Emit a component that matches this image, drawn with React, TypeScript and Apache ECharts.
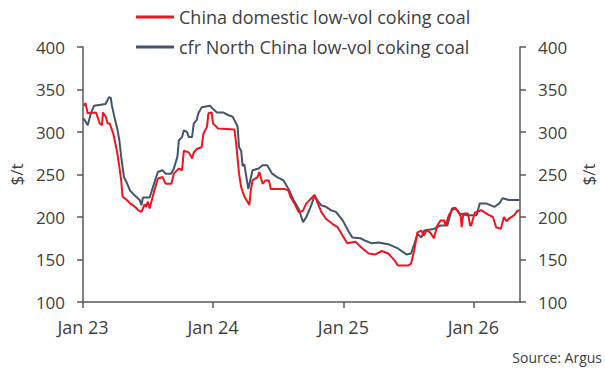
import React, { useEffect, useRef } from "react";
import * as echarts from "echarts";

const domesticDates = [
  "2023-01-03","2023-01-08","2023-01-14","2023-02-06","2023-02-12","2023-02-17","2023-02-23","2023-02-26",
  "2023-03-06","2023-03-11","2023-03-17","2023-03-20","2023-03-27","2023-04-06","2023-04-13","2023-04-18",
  "2023-04-22","2023-05-04","2023-05-13","2023-05-27","2023-06-05","2023-06-14","2023-06-18","2023-06-23",
  "2023-06-27","2023-07-02","2023-07-07","2023-07-20","2023-07-30","2023-08-12","2023-08-21","2023-09-06",
  "2023-09-13","2023-09-27","2023-10-06","2023-10-11","2023-10-25","2023-11-03","2023-11-08","2023-11-16",
  "2023-11-30","2023-12-05","2023-12-15","2023-12-19","2023-12-28","2024-01-01","2024-01-11","2024-01-15",
  "2024-03-01","2024-03-06","2024-03-14","2024-03-20","2024-03-29","2024-04-12","2024-04-16","2024-04-21",
  "2024-05-05","2024-05-10","2024-05-19","2024-05-27","2024-06-06","2024-06-11","2024-07-20","2024-07-31",
  "2024-08-05","2024-08-19","2024-08-28","2024-09-09","2024-09-19","2024-10-03","2024-10-12","2024-10-21",
  "2024-10-31","2024-11-13","2024-12-01","2024-12-16","2024-12-30","2025-01-12","2025-02-04","2025-02-18",
  "2025-03-13","2025-04-01","2025-04-19","2025-05-07","2025-05-25","2025-06-03","2025-07-02","2025-07-10",
  "2025-07-19","2025-07-28","2025-08-08","2025-08-15","2025-08-22","2025-09-02","2025-09-12","2025-09-22",
  "2025-10-01","2025-10-11","2025-10-15","2025-10-24","2025-11-02","2025-11-11","2025-11-20","2025-11-27",
  "2025-11-29","2025-12-04","2025-12-17","2025-12-23","2025-12-26","2026-01-05","2026-01-23","2026-02-10",
  "2026-02-25","2026-03-06","2026-03-19","2026-03-28","2026-04-04","2026-04-11","2026-04-25","2026-05-04",
  "2026-05-11"
];
const domesticValues = [
  331,334,322,323,316,310,308,323,
  318,310,310,306,298,278,259,243,
  224,220,216,212,208,206,210,215,
  212,218,210,231,245,247,239,239,
  251,257,255,278,276,269,276,280,
  282,298,306,322,323,310,306,304,
  303,286,251,235,224,214,231,243,
  247,253,239,243,243,233,233,231,
  224,214,206,207,216,222,226,216,
  206,198,192,188,178,169,171,165,
  157,156,160,157,149,143,143,145,
  161,182,184,178,184,182,175,190,
  196,196,190,202,208,210,206,200,
  188,204,204,190,190,205,208,203,
  200,188,186,200,195,198,202,207,
  208
];

const cfrDates = [
  "2023-01-03","2023-01-14","2023-01-23","2023-02-01","2023-03-05","2023-03-15","2023-03-20","2023-03-23",
  "2023-04-01","2023-04-08","2023-04-13","2023-04-18","2023-04-26","2023-05-04","2023-05-13","2023-05-27",
  "2023-06-09","2023-06-14","2023-06-18","2023-07-07","2023-07-16","2023-07-30","2023-08-12","2023-08-21",
  "2023-09-06","2023-09-13","2023-09-23","2023-09-27","2023-10-06","2023-10-11","2023-10-20","2023-10-25",
  "2023-11-03","2023-11-08","2023-11-16","2023-11-21","2023-11-30","2023-12-23","2024-01-01","2024-01-12",
  "2024-01-29","2024-02-12","2024-02-25","2024-03-06","2024-03-10","2024-03-14","2024-03-20","2024-03-24",
  "2024-03-29","2024-04-09","2024-04-21","2024-05-08","2024-05-19","2024-06-01","2024-06-15","2024-06-29",
  "2024-07-17","2024-07-31","2024-08-14","2024-08-28","2024-09-10","2024-09-19","2024-10-03","2024-10-12",
  "2024-10-21","2024-10-30","2024-11-13","2024-11-27","2024-12-11","2024-12-30","2025-01-17","2025-01-26",
  "2025-02-18","2025-03-04","2025-03-22","2025-04-09","2025-05-07","2025-06-03","2025-06-27","2025-07-10",
  "2025-07-19","2025-07-28","2025-08-08","2025-08-16","2025-09-12","2025-10-01","2025-10-20","2025-11-02",
  "2025-11-11","2025-11-24","2025-12-13","2026-01-10","2026-01-19","2026-02-06","2026-03-01","2026-03-15",
  "2026-03-24","2026-04-11","2026-05-04","2026-05-11"
];
const cfrValues = [
  316,308,322,331,333,341,340,331,
  314,302,290,271,247,240,231,225,
  220,214,223,223,235,253,255,251,
  251,257,271,290,294,302,300,294,
  294,310,314,322,329,331,327,323,
  323,320,318,310,306,282,278,260,
  262,233,255,257,261,261,251,247,
  243,233,220,210,194,200,214,225,
  219,214,212,208,206,196,182,176,
  175,172,169,170,168,163,156,157,
  168,180,176,184,186,190,190,210,
  211,204,202,202,216,216,212,216,
  222,220,220,220
];

const yTicks = [100, 150, 200, 250, 300, 350, 400];
const xTickYears = [2023, 2024, 2025, 2026];
const xStart = "2023-01-01";
const xEnd = "2026-05-12";

const seriesNames = [
  "China domestic low-vol coking coal",
  "cfr North China low-vol coking coal",
];

const FONT = "'Open Sans', 'Noto Sans', sans-serif";
const TXT = "#404040";
const AXIS = "#595959";

const ts = (s: string) => {
  const [y, m, d] = s.split("-").map(Number);
  return Date.UTC(y, m - 1, d);
};

export default function App() {
  const ref = useRef<HTMLDivElement>(null);
  useEffect(() => {
    if (!ref.current) return;
    const chart = echarts.init(ref.current, null, { renderer: "svg" });
    const janTicks = xTickYears.map((y) => Date.UTC(y, 0, 1));
    const yAxisBase = (pos: "left" | "right") => ({
      type: "value" as const,
      position: pos,
      min: yTicks[0],
      max: yTicks[yTicks.length - 1],
      interval: 50,
      name: "$/t",
      nameLocation: "middle" as const,
      nameGap: pos === "left" ? 58 : 60,
      nameRotate: 90,
      nameTextStyle: { fontSize: 17, color: TXT, fontFamily: FONT },
      axisLine: { show: true, lineStyle: { color: AXIS, width: 1.5 } },
      axisTick: { show: true, length: 6, lineStyle: { color: AXIS, width: 1.5 } },
      axisLabel: { fontSize: 17, color: TXT, fontFamily: FONT, margin: 18 },
      splitLine: { show: false },
    });
    chart.setOption({
      animation: false,
      grid: { left: 82, right: 77, top: 47, bottom: 68 },
      legend: {
        orient: "vertical",
        left: 131,
        top: 1,
        icon: "rect",
        itemWidth: 38,
        itemHeight: 3,
        itemGap: 8,
        textStyle: { fontSize: 18, color: TXT, fontFamily: FONT, lineHeight: 22 },
        data: seriesNames,
      },
      xAxis: {
        type: "value",
        min: ts(xStart),
        max: ts(xEnd),
        axisLine: { show: true, onZero: false, lineStyle: { color: AXIS, width: 1.5 } },
        axisTick: { show: true, length: 6, lineStyle: { color: AXIS, width: 1.5 }, customValues: janTicks },
        axisLabel: {
          fontSize: 18,
          color: TXT,
          fontFamily: FONT,
          margin: 16,
          customValues: janTicks,
          formatter: (v: number) => "Jan " + String(new Date(v).getUTCFullYear()).slice(2),
        },
        splitLine: { show: false },
      },
      yAxis: [yAxisBase("left"), yAxisBase("right")],
      graphic: [
        {
          type: "text",
          right: 3,
          top: 350,
          style: { text: "Source: Argus", fontSize: 14, fill: TXT, fontFamily: FONT },
        },
      ],
      series: [
        {
          name: seriesNames[0],
          type: "line",
          yAxisIndex: 0,
          showSymbol: false,
          symbol: "none",
          lineStyle: { color: "#f0141e", width: 2 },
          itemStyle: { color: "#f0141e" },
          data: domesticDates.map((d, i) => [ts(d), domesticValues[i]]),
          z: 3,
        },
        {
          name: seriesNames[1],
          type: "line",
          yAxisIndex: 0,
          showSymbol: false,
          symbol: "none",
          lineStyle: { color: "#44546a", width: 2 },
          itemStyle: { color: "#44546a" },
          data: cfrDates.map((d, i) => [ts(d), cfrValues[i]]),
          z: 2,
        },
      ],
    });
    return () => chart.dispose();
  }, []);
  return <div ref={ref} style={{ width: 605, height: 370, position: "absolute", left: 0, top: 0 }} />;
}
